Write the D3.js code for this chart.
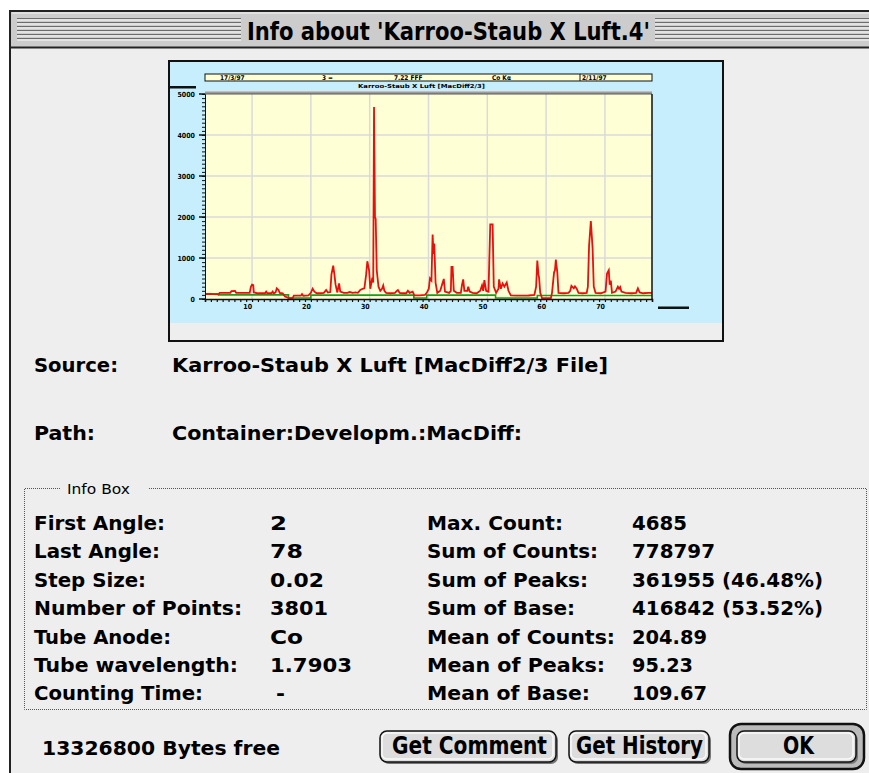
<!DOCTYPE html>
<html>
<head>
<meta charset="utf-8">
<script src="https://cdn.jsdelivr.net/npm/d3@7/dist/d3.min.js"></script>
<style>
body{margin:0;background:#fff}
svg{display:block}
.sys{font-family:"DejaVu Sans Condensed","DejaVu Sans",sans-serif;font-stretch:condensed}
</style>
</head>
<body>
<div id="dlg"></div>
<script>
// diffractogram: 2-theta (deg) and counts
var angles = [2.0,2.6,3.2,4.3,4.5,5.0,6.3,6.5,7.1,7.3,8.5,9.6,9.8,10.0,10.2,10.3,11.0,12.2,12.4,12.6,
  13.3,13.5,13.7,14.0,14.2,14.5,14.7,15.2,15.6,16.3,16.9,17.1,18.3,18.5,18.7,19.6,20.0,20.3,20.6,21.0,
  21.6,22.2,22.6,22.9,23.3,23.5,23.8,24.0,24.2,24.5,24.8,25.0,25.6,26.2,26.6,27.1,27.6,28.0,28.4,28.8,
  29.1,29.4,29.6,29.9,30.1,30.45,30.6,30.74,30.9,31.02,31.2,31.5,31.8,32.1,32.3,32.5,32.8,33.5,34.3,34.6,
  34.8,35.1,35.6,36.2,36.5,36.8,37.3,37.6,38.5,39.4,39.7,40.05,40.25,40.5,40.7,40.85,40.98,41.2,41.5,42.0,
  42.3,42.6,42.8,43.5,43.8,43.9,44.1,44.3,44.8,45.5,45.7,45.9,46.1,46.6,46.75,47.0,47.5,48.2,48.8,49.1,
  49.3,49.5,49.8,50.2,50.5,50.9,51.1,51.5,51.9,52.0,52.3,52.6,52.9,53.3,53.6,54.0,55.0,56.0,57.0,58.0,
  58.3,58.5,58.7,58.8,59.0,59.3,60.8,61.0,61.35,61.5,61.65,61.9,62.1,63.0,63.8,64.1,64.3,64.7,64.9,65.2,
  65.5,66.2,66.9,67.1,67.3,67.6,67.9,68.1,68.4,69.3,70.1,70.35,70.65,70.8,71.0,71.2,71.8,72.2,72.4,72.6,
  72.8,73.5,74.5,75.3,75.6,75.9,76.5,77.4,78.0];
var counts = [120,125,120,115,150,150,150,190,195,150,150,150,300,350,340,160,140,140,180,140,
  140,180,140,160,260,220,150,140,60,20,20,80,80,120,80,90,150,250,180,140,
  140,150,220,160,170,600,815,600,350,160,380,180,150,150,170,150,160,150,220,250,
  260,600,920,700,250,520,400,4685,2000,1960,700,300,200,250,330,200,150,140,150,200,
  220,150,140,140,200,150,180,90,90,100,150,250,500,450,1573,1100,1353,400,150,200,
  350,490,180,150,200,783,783,200,150,150,350,480,200,200,300,180,150,140,200,330,
  200,460,200,180,1820,1820,300,150,250,480,250,380,300,400,200,90,80,80,85,100,
  300,940,600,520,150,20,20,150,650,700,960,650,150,140,150,200,320,260,310,250,
  150,140,150,300,1300,1900,1240,300,150,140,180,620,700,350,450,150,180,300,250,290,
  180,150,140,150,260,160,140,150,150];
// background (green) line
var baseAngles = [2.0,4.3,4.3,16.2,16.2,20.0,20.0,37.5,37.5,39.7,39.7,51.4,51.4,58.5,58.5,78.0];
var baseCounts = [125,125,100,100,25,25,95,95,25,25,95,95,25,25,85,85];

var xGrid = [10,20,30,40,50,60,70];
var yGrid = [1000,2000,3000,4000];
var yLabels = [0,1000,2000,3000,4000,5000];
var headerFields = ["17/3/97","3 =","7.22 FFF","Co K\u03b1","2/11/97"];
var subTitle = "Karroo-Staub X Luft [MacDiff2/3]";

var leftLabels = ["First Angle:","Last Angle:","Step Size:","Number of Points:","Tube Anode:","Tube wavelength:","Counting Time:"];
var leftWidths = [131,126,112,208,137,204,169];
var leftValues = ["2","78","0.02","3801","Co","1.7903","-"];
var leftValW = [17,33,54,58,33,82,9];
var rightLabels = ["Max. Count:","Sum of Counts:","Sum of Peaks:","Sum of Base:","Mean of Counts:","Mean of Peaks:","Mean of Base:"];
var rightWidths = [136,171,161,148,188,178,163];
var rightValues = ["4685","778797","361955 (46.48%)","416842 (53.52%)","204.89","95.23","109.67"];
var rightValW = [55,83,191,191,75,61,75];

var W = 869, H = 773;
var svg = d3.select("#dlg").append("svg").attr("width", W).attr("height", H);

// window frame + title bar
svg.append("rect").attr("x",10).attr("y",11).attr("width",W).attr("height",H)
  .attr("fill","#eeeeee").attr("stroke","#222").attr("stroke-width",2);
svg.append("rect").attr("x",11).attr("y",12).attr("width",W).attr("height",35).attr("fill","#cccccc");
svg.append("line").attr("x1",10).attr("x2",W).attr("y1",47.5).attr("y2",47.5).attr("stroke","#222").attr("stroke-width",2);
svg.append("line").attr("x1",12).attr("x2",W).attr("y1",13).attr("y2",13).attr("stroke","#f4f4f4");
var stripeY = d3.range(18.5, 42, 4);
[[17,241],[655,W]].forEach(function(s){
  stripeY.forEach(function(yy){
    svg.append("line").attr("x1",s[0]).attr("x2",s[1]).attr("y1",yy).attr("y2",yy).attr("stroke","#6d6d6d");
    svg.append("line").attr("x1",s[0]).attr("x2",s[1]).attr("y1",yy+1.5).attr("y2",yy+1.5).attr("stroke","#fafafa");
  });
});
svg.append("text").attr("class","sys").attr("x",247).attr("y",40)
  .attr("font-size",25).attr("font-weight","bold").attr("textLength",403).attr("lengthAdjust","spacingAndGlyphs")
  .attr("fill","#000").text("Info about 'Karroo-Staub X Luft.4'");

// thumbnail
svg.append("rect").attr("x",169).attr("y",61).attr("width",554).attr("height",280)
  .attr("fill","#eeeeee").attr("stroke","#111").attr("stroke-width",2);
svg.append("rect").attr("x",170).attr("y",62).attr("width",552).attr("height",261).attr("fill","#c6eefd");

var x = d3.scaleLinear().domain([2,78]).range([205,652]);
var y = d3.scaleLinear().domain([0,5000]).range([299,94]);
var g = svg.append("g");

g.append("rect").attr("x",x(2)).attr("y",y(5000)).attr("width",x(78)-x(2)).attr("height",y(0)-y(5000)).attr("fill","#ffffd6");
g.selectAll(".vg").data(xGrid).enter().append("line")
  .attr("x1",function(d){return x(d);}).attr("x2",function(d){return x(d);})
  .attr("y1",y(5000)).attr("y2",y(0)).attr("stroke","#dadada").attr("stroke-width",1.5);
g.selectAll(".hg").data(yGrid).enter().append("line")
  .attr("x1",x(2)).attr("x2",x(78))
  .attr("y1",function(d){return y(d);}).attr("y2",function(d){return y(d);})
  .attr("stroke","#dadada").attr("stroke-width",1.5);

// header strip above plot
g.append("rect").attr("x",205).attr("y",74).attr("width",447).attr("height",7)
  .attr("fill","#ffffd6").attr("stroke","#111").attr("stroke-width",1);
g.append("line").attr("x1",580).attr("x2",580).attr("y1",74).attr("y2",81).attr("stroke","#111");
var hx = [220,322,394,492,582];
g.selectAll(".hf").data(headerFields).enter().append("text")
  .attr("x",function(d,i){return hx[i];}).attr("y",80).attr("font-size",6.5).attr("font-weight","bold")
  .attr("font-family","DejaVu Sans Condensed, DejaVu Sans").text(function(d){return d;});
g.append("text").attr("x",358).attr("y",88).attr("font-size",5.5).attr("font-weight","bold")
  .attr("font-family","DejaVu Sans Condensed, DejaVu Sans").attr("textLength",127)
  .attr("lengthAdjust","spacingAndGlyphs").text(subTitle);
g.append("rect").attr("x",169).attr("y",86).attr("width",27).attr("height",2.5).attr("fill","#111");

// gray bar on top of plot
var grad = svg.append("defs").append("linearGradient").attr("id","topbar").attr("x1",0).attr("x2",0).attr("y1",0).attr("y2",1);
grad.append("stop").attr("offset","0").attr("stop-color","#e4e4e4");
grad.append("stop").attr("offset","1").attr("stop-color","#555");
g.append("rect").attr("x",205).attr("y",90.5).attr("width",447).attr("height",4).attr("fill","url(#topbar)");

// data lines
var baseLine = d3.line().x(function(d){return x(d[0]);}).y(function(d){return y(d[1]);});
g.append("path").datum(d3.zip(baseAngles, baseCounts)).attr("d", baseLine)
  .attr("fill","none").attr("stroke","#1b9a1b").attr("stroke-width",1.6);
g.append("path").datum(d3.zip(angles, counts)).attr("d", baseLine)
  .attr("fill","none").attr("stroke","#e8100c").attr("stroke-width",1.8).attr("stroke-linejoin","miter");

// frame + axes
g.append("line").attr("x1",x(78)).attr("x2",x(78)).attr("y1",y(5000)).attr("y2",y(0)).attr("stroke","#111").attr("stroke-width",1.5);
var yAxis = d3.axisLeft(y).tickValues(d3.range(0,5001,100)).tickSize(3).tickFormat("");
g.append("g").attr("transform","translate("+x(2)+",0)").call(yAxis)
  .call(function(s){s.selectAll("line").attr("stroke","#111").attr("stroke-width",1);s.select(".domain").attr("stroke","#111");});
g.selectAll(".ymaj").data(yLabels).enter().append("line")
  .attr("x1",x(2)-6).attr("x2",x(2)).attr("y1",function(d){return y(d);}).attr("y2",function(d){return y(d);})
  .attr("stroke","#111").attr("stroke-width",1.5);
g.selectAll(".yl").data(yLabels).enter().append("text")
  .attr("x",195).attr("y",function(d){return y(d)+2.5;}).attr("text-anchor","end")
  .attr("font-size",7).attr("font-weight","bold").attr("font-family","DejaVu Sans Condensed, DejaVu Sans")
  .text(function(d){return d;});
var xAxis = d3.axisBottom(x).tickValues(d3.range(2,79,1)).tickSize(3).tickFormat("");
g.append("g").attr("transform","translate(0,"+y(0)+")").call(xAxis)
  .call(function(s){s.selectAll("line").attr("stroke","#111").attr("stroke-width",1.2);s.select(".domain").attr("stroke","#111").attr("stroke-width",1.5);});
g.selectAll(".xl").data(xGrid).enter().append("text")
  .attr("x",function(d){return x(d);}).attr("y",309).attr("text-anchor","end")
  .attr("font-size",7).attr("font-weight","bold").attr("font-family","DejaVu Sans Condensed, DejaVu Sans")
  .text(function(d){return d;});
g.append("rect").attr("x",658).attr("y",306.5).attr("width",31).attr("height",2.5).attr("fill","#111");

// dialog text
function bold(xp, yp, txt, w){
  var t = svg.append("text").attr("class","sys").attr("x",xp).attr("y",yp)
    .attr("font-size",20).attr("font-weight","bold").attr("fill","#000").text(txt);
  if (w) t.attr("textLength",w).attr("lengthAdjust","spacingAndGlyphs");
  return t;
}
bold(34,372,"Source:",84);
bold(172,372,"Karroo-Staub X Luft [MacDiff2/3 File]",436);
bold(34,440,"Path:",61);
bold(172,440,"Container:Developm.:MacDiff:",350);

// info box
var box = svg.append("g");
box.append("path").attr("d","M60,488.5 H24.5 V709.5 H866.5 V488.5 H148")
  .attr("fill","none").attr("stroke","#555").attr("stroke-width",1).attr("stroke-dasharray","1,1");
svg.append("text").attr("x",67).attr("y",494).attr("font-family","DejaVu Sans, sans-serif")
  .attr("font-size",14).attr("textLength",63).attr("lengthAdjust","spacingAndGlyphs").text("Info Box");
var rowY = [530,558,586.5,615,643.5,672,700];
rowY.forEach(function(yy,i){
  bold(34,yy,leftLabels[i],leftWidths[i]);
  bold(i===6?276:270,yy,leftValues[i],leftValW[i]);
  bold(427,yy,rightLabels[i],rightWidths[i]);
  bold(632,yy,rightValues[i],rightValW[i]);
});

// bottom row
bold(42,755,"13326800 Bytes free",238);
function button(x0,x1,y0,y1,label,tx,tw){
  svg.append("rect").attr("x",x0+2).attr("y",y0+2).attr("width",x1-x0).attr("height",y1-y0).attr("rx",7)
    .attr("fill","#777");
  svg.append("rect").attr("x",x0).attr("y",y0).attr("width",x1-x0).attr("height",y1-y0).attr("rx",7)
    .attr("fill","#dddddd").attr("stroke","#111").attr("stroke-width",1.5);
  svg.append("rect").attr("x",x0+2).attr("y",y0+2).attr("width",x1-x0-5).attr("height",y1-y0-5).attr("rx",5)
    .attr("fill","none").attr("stroke","#fafafa").attr("stroke-width",1.5);
  svg.append("text").attr("class","sys").attr("x",tx).attr("y",y1-8).attr("font-size",24).attr("font-weight","bold")
    .attr("textLength",tw).attr("lengthAdjust","spacingAndGlyphs").text(label);
}
button(380,556,731,762,"Get Comment",392,155);
button(569,709,731,762,"Get History",576,127);
svg.append("rect").attr("x",730).attr("y",724).attr("width",134).attr("height",45).attr("rx",11)
  .attr("fill","#bbbbbb").attr("stroke","#111").attr("stroke-width",2.5);
button(737,856,731,762,"OK",783,31);
</script>
</body>
</html>
